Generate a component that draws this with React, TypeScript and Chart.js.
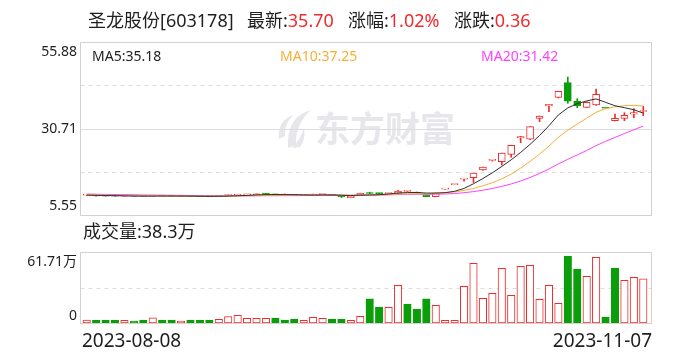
import React, { useEffect, useRef } from "react";
import { Chart, registerables } from "chart.js";

Chart.register(...registerables);

// ---------------- data ----------------
const stockName = "圣龙股份[603178]";

const dates = [
  "2023-08-08", "2023-08-09", "2023-08-10", "2023-08-11", "2023-08-14", "2023-08-15", "2023-08-16", "2023-08-17", "2023-08-18",
  "2023-08-21", "2023-08-22", "2023-08-23", "2023-08-24", "2023-08-25", "2023-08-28", "2023-08-29", "2023-08-30", "2023-08-31",
  "2023-09-01", "2023-09-04", "2023-09-05", "2023-09-06", "2023-09-07", "2023-09-08", "2023-09-11", "2023-09-12", "2023-09-13",
  "2023-09-14", "2023-09-15", "2023-09-18", "2023-09-19", "2023-09-20", "2023-09-21", "2023-09-22", "2023-09-25", "2023-09-26",
  "2023-09-27", "2023-09-28", "2023-10-09", "2023-10-10", "2023-10-11", "2023-10-12", "2023-10-13", "2023-10-16", "2023-10-17",
  "2023-10-18", "2023-10-19", "2023-10-20", "2023-10-23", "2023-10-24", "2023-10-25", "2023-10-26", "2023-10-27", "2023-10-30",
  "2023-10-31", "2023-11-01", "2023-11-02", "2023-11-03", "2023-11-06", "2023-11-07",
];

// closes of the 19 sessions before the window (needed for the moving averages)
const priorCloses = [
  11.95, 11.9, 12.02, 11.88, 11.8, 11.85, 11.76, 11.7, 11.82, 11.74,
  11.66, 11.6, 11.55, 11.48, 11.4, 11.35, 11.3, 11.28, 11.3,
];

const opens = [
  11.33, 11.2, 11.08, 11.05, 11.02, 11.06, 11.03, 11.0, 11.12, 11.08,
  11.03, 11.05, 10.92, 10.9, 10.9, 11.22, 11.36, 11.4, 11.45, 11.72,
  11.6, 11.32, 11.35, 11.28, 11.34, 11.5, 11.45, 10.95, 10.62, 11.37,
  11.9, 11.85, 11.75, 11.86, 12.42, 12.16, 11.4, 10.9, 13.09, 14.4,
  16.0, 16.4, 18.64, 21.45, 21.06, 23.21, 27.95, 27.58, 33.68, 37.26,
  39.79, 44.04, 38.72, 36.88, 37.55, 36.6, 32.99, 33.68, 34.85, 35.65,
];
const highs = [
  11.4, 11.22, 11.12, 11.08, 11.1, 11.08, 11.05, 11.2, 11.14, 11.1,
  11.1, 11.06, 10.95, 10.92, 11.22, 11.4, 11.45, 11.48, 11.7, 11.75,
  11.62, 11.66, 11.38, 11.36, 11.66, 11.6, 11.5, 11.0, 11.0, 11.9,
  12.2, 11.9, 11.9, 12.7, 12.55, 12.25, 11.5, 11.95, 13.09, 14.4,
  16.1, 17.71, 19.48, 21.45, 23.57, 25.85, 28.4, 31.24, 34.34, 37.76,
  41.54, 45.69, 39.39, 38.5, 42.21, 36.6, 34.93, 35.31, 36.48, 37.17,
];
const lows = [
  11.3, 11.05, 11.02, 11.0, 11.0, 11.0, 10.98, 10.98, 11.05, 11.02,
  11.0, 10.9, 10.86, 10.85, 10.88, 11.2, 11.3, 11.35, 11.42, 11.6,
  11.35, 11.3, 11.26, 11.25, 11.3, 11.48, 11.25, 10.62, 10.59, 11.3,
  11.75, 11.7, 11.72, 11.8, 12.3, 11.9, 10.85, 10.85, 13.05, 14.36,
  15.4, 15.0, 18.5, 21.2, 20.1, 22.34, 26.59, 27.5, 32.7, 35.6,
  39.6, 38.05, 36.77, 36.8, 37.4, 36.6, 32.9, 32.99, 33.86, 34.45,
];
const closes = [
  11.37, 11.08, 11.05, 11.02, 11.06, 11.03, 11.0, 11.12, 11.08, 11.05,
  11.07, 10.92, 10.9, 10.88, 11.2, 11.35, 11.4, 11.42, 11.62, 11.65,
  11.4, 11.35, 11.3, 11.32, 11.4, 11.57, 11.3, 10.9, 10.98, 11.86,
  11.8, 11.75, 11.85, 12.53, 12.45, 11.95, 10.88, 11.9, 13.09, 14.4,
  16.1, 17.71, 19.48, 21.45, 23.57, 25.85, 28.4, 31.24, 34.34, 37.76,
  41.54, 38.7, 37.35, 38.36, 40.67, 36.6, 33.68, 34.56, 35.34, 35.7,
];
// volume in 万手
const volumes = [
  2.6, 2.6, 2.6, 2.6, 2.3, 1.7, 2.6, 4.6, 2.6, 2.6,
  1.7, 2.6, 2.6, 2.6, 3.2, 5.5, 6.7, 4.1, 4.1, 4.1,
  4.3, 2.6, 3.5, 2.3, 5.0, 4.1, 3.5, 3.5, 2.3, 5.8,
  20.9, 13.9, 13.6, 32.8, 16.5, 12.2, 20.9, 15.4, 2.3, 2.3,
  31.9, 51.9, 21.5, 25.8, 47.5, 24.1, 49.3, 50.1, 20.6, 32.8,
  17.1, 58.2, 46.9, 40.6, 57.1, 5.2, 47.8, 37.1, 39.7, 38.3,
];

const priceTicks = [55.88, 30.71, 5.55];
const volumeMax = 61.71;

// ---------------- styling ----------------
const FONT = "'Noto Sans', 'Noto Sans CJK SC', sans-serif";
const RED = "#f02b2b";
const GREEN = "#0a9e0a";
const TEXT = "#1e1e1e";
const GRID = "#dddddd";
const BORDER = "#d2d2d2";
const MA5_C = "#2e2e2e";
const MA10_C = "#f5b033";
const MA20_C = "#ff40ff";

// ---------------- derived ----------------
const allCloses = [...priorCloses, ...closes];
const prevClose = (i: number) => allCloses[priorCloses.length + i - 1];
function movingAverage(n: number): number[] {
  return closes.map((_, i) => {
    const end = priorCloses.length + i;
    let s = 0;
    for (let k = end - n + 1; k <= end; k++) s += allCloses[k];
    return s / n;
  });
}
const ma5 = movingAverage(5);
const ma10 = movingAverage(10);
const ma20 = movingAverage(20);

const candleUp = closes.map((c, i) =>
  c > opens[i] ? true : c < opens[i] ? false : c >= prevClose(i)
);
const volUp = closes.map((c, i) => c >= prevClose(i));

const last = closes.length - 1;
const lastClose = closes[last];
const change = closes[last] - closes[last - 1];
const changePct = (change / closes[last - 1]) * 100;

function drawWatermark(ctx: CanvasRenderingContext2D) {
  ctx.save();
  ctx.fillStyle = "#e7e7eb";
  // stylised logo
  ctx.beginPath();
  ctx.moveTo(311, 110);
  ctx.quadraticCurveTo(286, 117, 288, 148);
  ctx.lineTo(296, 145);
  ctx.quadraticCurveTo(295, 124, 311, 110);
  ctx.fill();
  ctx.beginPath();
  ctx.moveTo(293, 115);
  ctx.quadraticCurveTo(277, 121, 279, 139);
  ctx.lineTo(285, 136);
  ctx.quadraticCurveTo(284, 124, 293, 115);
  ctx.fill();
  ctx.beginPath();
  ctx.moveTo(304, 128);
  ctx.quadraticCurveTo(300, 140, 292, 148);
  ctx.lineTo(300, 147);
  ctx.quadraticCurveTo(306, 140, 304, 128);
  ctx.fill();
  ctx.font = `bold 35px 'Noto Sans CJK SC', sans-serif`;
  ctx.textBaseline = "middle";
  ctx.textAlign = "left";
  ctx.fillText("东方财富", 315, 129);
  ctx.restore();
}

const pricePlugin = {
  id: "priceDecor",
  beforeDatasetsDraw(chart: any) {
    const { ctx, chartArea: a, scales } = chart;
    const y = scales.y;
    const L = a.left - 1.5;
    const R = a.right + 3.5;
    ctx.save();
    drawWatermark(ctx);
    ctx.lineWidth = 1;
    ctx.strokeStyle = GRID;
    ctx.setLineDash([4, 4]);
    const qTop = Math.round(y.getPixelForValue((priceTicks[0] + priceTicks[1]) / 2)) + 0.5;
    const qBot = Math.round(y.getPixelForValue((priceTicks[1] + priceTicks[2]) / 2)) + 0.5;
    for (const yy of [qTop, qBot]) {
      ctx.beginPath();
      ctx.moveTo(L, yy);
      ctx.lineTo(R, yy);
      ctx.stroke();
    }
    ctx.setLineDash([]);
    const mid = Math.round(y.getPixelForValue(priceTicks[1])) + 0.5;
    ctx.beginPath();
    ctx.moveTo(L, mid);
    ctx.lineTo(R, mid);
    ctx.stroke();
    ctx.strokeStyle = BORDER;
    ctx.strokeRect(L, a.top + 0.5, R - L, a.bottom - a.top);
    ctx.restore();
  },
  afterDraw(chart: any) {
    const { ctx, chartArea: a, scales } = chart;
    const y = scales.y;
    ctx.save();
    // title
    ctx.textBaseline = "middle";
    ctx.textAlign = "left";
    ctx.font = `18px ${FONT}`;
    const ty = 22;
    ctx.fillStyle = TEXT;
    ctx.fillText(stockName, 88, ty);
    const pairs: [string, string, number][] = [
      ["最新:", lastClose.toFixed(2), 247],
      ["涨幅:", changePct.toFixed(2) + "%", 348],
      ["涨跌:", change.toFixed(2), 454],
    ];
    for (const [label, val, x] of pairs) {
      ctx.fillStyle = TEXT;
      ctx.fillText(label, x, ty);
      const w = ctx.measureText(label).width;
      ctx.fillStyle = RED;
      ctx.fillText(val, x + w, ty);
    }
    // MA legend
    ctx.font = `14px ${FONT}`;
    ctx.fillStyle = TEXT;
    ctx.fillText("MA5:" + ma5[last].toFixed(2), 92, 57);
    ctx.fillStyle = MA10_C;
    ctx.fillText("MA10:" + ma10[last].toFixed(2), 280, 57);
    ctx.fillStyle = MA20_C;
    ctx.fillText("MA20:" + ma20[last].toFixed(2), 481, 57);
    // y labels
    ctx.fillStyle = TEXT;
    ctx.textAlign = "right";
    const lx = a.left - 5;
    ctx.fillText(priceTicks[0].toFixed(2), lx, y.getPixelForValue(priceTicks[0]) + 10);
    ctx.fillText(priceTicks[1].toFixed(2), lx, y.getPixelForValue(priceTicks[1]));
    ctx.fillText(priceTicks[2].toFixed(2), lx, y.getPixelForValue(priceTicks[2]) - 9);
    ctx.restore();
  },
};

const volumePlugin = {
  id: "volDecor",
  beforeDatasetsDraw(chart: any) {
    const { ctx, chartArea: a, scales } = chart;
    const y = scales.y;
    const L = a.left - 1.5;
    const R = a.right + 3.5;
    ctx.save();
    ctx.lineWidth = 1;
    ctx.strokeStyle = GRID;
    ctx.setLineDash([4, 4]);
    const mid = Math.round(y.getPixelForValue(volumeMax / 2)) + 0.5;
    ctx.beginPath();
    ctx.moveTo(L, mid);
    ctx.lineTo(R, mid);
    ctx.stroke();
    ctx.setLineDash([]);
    ctx.strokeStyle = BORDER;
    ctx.strokeRect(L, a.top + 0.5, R - L, a.bottom - a.top);
    ctx.restore();
  },
  afterDraw(chart: any) {
    const { ctx, chartArea: a } = chart;
    ctx.save();
    ctx.textBaseline = "middle";
    ctx.textAlign = "left";
    ctx.fillStyle = TEXT;
    ctx.font = `18px ${FONT}`;
    ctx.fillText("成交量:" + volumes[last].toFixed(1) + "万", 83, 233);
    ctx.font = `14px ${FONT}`;
    ctx.textAlign = "right";
    ctx.fillText(volumeMax.toFixed(2) + "万", a.left - 5, a.top + 10);
    ctx.fillText("0", a.left - 5, a.bottom - 7);
    ctx.font = `19px ${FONT}`;
    ctx.textAlign = "left";
    ctx.fillText(dates[0], a.left, 342);
    ctx.textAlign = "right";
    ctx.fillText(dates[last], a.right + 4, 342);
    ctx.restore();
  },
};

export default function App() {
  const priceRef = useRef<HTMLCanvasElement>(null);
  const volRef = useRef<HTMLCanvasElement>(null);

  useEffect(() => {
    const bodyData = opens.map((o, i) => [Math.min(o, closes[i]), Math.max(o, closes[i])]);
    const wickData = lows.map((l, i) => [l, highs[i]]);
    const lineDs = (data: number[], color: string) => ({
      type: "line" as const,
      data,
      borderColor: color,
      borderWidth: 1,
      pointRadius: 0,
      fill: false,
      tension: 0,
      order: 0,
    });

    const priceChart = new Chart(priceRef.current!, {
      type: "bar",
      data: {
        labels: dates,
        datasets: [
          lineDs(ma5, MA5_C),
          lineDs(ma10, MA10_C),
          lineDs(ma20, MA20_C),
          {
            type: "bar",
            data: bodyData as any,
            backgroundColor: candleUp.map((u) => (u ? "#ffffff" : GREEN)),
            borderColor: candleUp.map((u) => (u ? RED : GREEN)),
            borderWidth: 1,
            borderSkipped: false,
            barThickness: 7,
            minBarLength: 1,
            grouped: false,
            order: 1,
          } as any,
          {
            type: "bar",
            data: wickData as any,
            backgroundColor: candleUp.map((u) => (u ? RED : GREEN)),
            borderWidth: 0,
            barThickness: 1,
            grouped: false,
            order: 2,
          } as any,
        ],
      },
      options: {
        responsive: false,
        animation: false,
        events: [],
        layout: { padding: { left: 82, right: 40, top: 42, bottom: 145 } },
        plugins: { legend: { display: false }, tooltip: { enabled: false } },
        scales: {
          x: { type: "category", display: false, offset: true },
          y: { type: "linear", display: false, min: priceTicks[2], max: priceTicks[0] },
        },
      },
      plugins: [pricePlugin],
    });

    const volChart = new Chart(volRef.current!, {
      type: "bar",
      data: {
        labels: dates,
        datasets: [
          {
            data: volumes,
            backgroundColor: volUp.map((u) => (u ? "#ffffff" : GREEN)),
            borderColor: volUp.map((u) => (u ? RED : GREEN)),
            borderWidth: 1,
            borderSkipped: false,
            barThickness: 7.5,
          } as any,
        ],
      },
      options: {
        responsive: false,
        animation: false,
        events: [],
        layout: { padding: { left: 82, right: 40, top: 252, bottom: 37 } },
        plugins: { legend: { display: false }, tooltip: { enabled: false } },
        scales: {
          x: { type: "category", display: false, offset: true },
          y: { type: "linear", display: false, min: 0, max: volumeMax },
        },
      },
      plugins: [volumePlugin],
    });

    return () => {
      priceChart.destroy();
      volChart.destroy();
    };
  }, []);

  const canvasStyle: React.CSSProperties = {
    position: "absolute",
    left: 0,
    top: 0,
    width: 688,
    height: 360,
  };

  return (
    <div style={{ position: "absolute", left: 0, top: 0, width: 688, height: 360, background: "#ffffff" }}>
      <canvas ref={priceRef} width={688} height={360} style={canvasStyle} />
      <canvas ref={volRef} width={688} height={360} style={canvasStyle} />
    </div>
  );
}
